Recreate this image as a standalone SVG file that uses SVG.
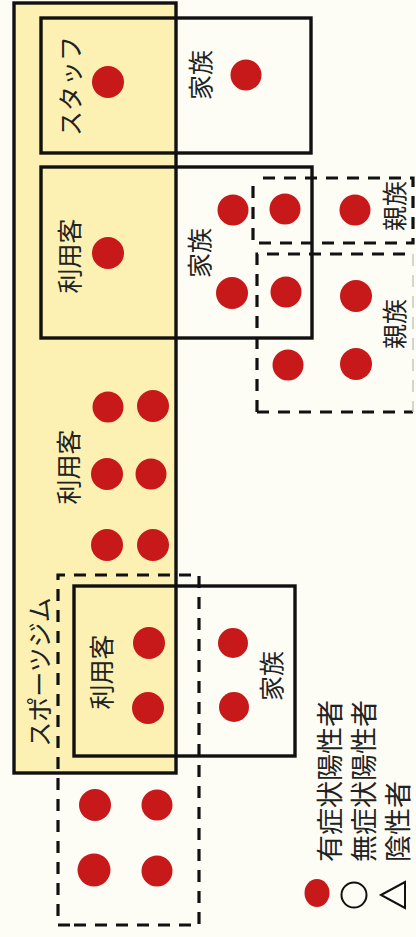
<svg xmlns="http://www.w3.org/2000/svg" width="416" height="937" viewBox="0 0 416 937">
<defs>
<style>
.solid{fill:none;stroke:#111;stroke-width:3.4}
.gymrect{fill:#fcf1b2;stroke:#111;stroke-width:3.4}
.dash{fill:none;stroke:#111;stroke-width:3.2;stroke-dasharray:12 9}
.faint{fill:none;stroke:#c8c8c0;stroke-width:1.5;stroke-dasharray:12 9}
.dot{fill:#c8191a}
.lbl{font-family:"Noto Sans CJK JP","Noto Sans",sans-serif;font-size:25px;fill:#222;text-anchor:middle;dominant-baseline:central}
.leg{font-family:"Noto Sans CJK JP","Noto Sans",sans-serif;font-size:27px;fill:#222;text-anchor:start;dominant-baseline:central}
</style>
</defs>
<rect width="416" height="937" fill="#fdfdf6"/>

<g id="gym">
<rect x="14" y="3" width="162" height="770" class="gymrect"/>
<text class="lbl" transform="translate(38,672) rotate(-90)">スポーツジム</text>
</g>

<g id="staff-box">
<rect x="41" y="18" width="270" height="135" class="solid"/>
</g>
<g id="staff">
<text class="lbl" transform="translate(69,86) rotate(-90)">スタッフ</text>
<circle class="dot" cx="108" cy="82" r="16"/>
</g>
<g id="staff-family">
<text class="lbl" transform="translate(199,75) rotate(-90)">家族</text>
<circle class="dot" cx="246" cy="75" r="15.5"/>
</g>

<g id="user1-box">
<rect x="41" y="167" width="271" height="171" class="solid"/>
</g>
<g id="user1">
<text class="lbl" transform="translate(68,256) rotate(-90)">利用客</text>
<circle class="dot" cx="108" cy="253" r="16"/>
</g>
<g id="user1-family">
<text class="lbl" transform="translate(198,253) rotate(-90)">家族</text>
<circle class="dot" cx="233" cy="210" r="15.5"/>
<circle class="dot" cx="232" cy="293" r="16"/>
</g>

<g id="relatives1">
<path class="dash" d="M263 178 H413 V243 H253 V178"/>
<text class="lbl" transform="translate(393,206) rotate(-90)">親族</text>
<circle class="dot" cx="285" cy="209" r="15.5"/>
<circle class="dot" cx="355" cy="210" r="15.5"/>
</g>

<g id="relatives2">
<path class="dash" d="M257 412 V254 H413"/>
<path class="dash" d="M257 412 H413"/>
<path class="faint" d="M413 254 V412"/>
<text class="lbl" transform="translate(393,324) rotate(-90)">親族</text>
<circle class="dot" cx="286" cy="292" r="15.5"/>
<circle class="dot" cx="356" cy="296" r="16"/>
<circle class="dot" cx="288" cy="365" r="15.5"/>
<circle class="dot" cx="356" cy="364" r="16"/>
</g>

<g id="users2">
<text class="lbl" transform="translate(67,467) rotate(-90)">利用客</text>
<circle class="dot" cx="108" cy="407" r="15.5"/>
<circle class="dot" cx="153" cy="406" r="16"/>
<circle class="dot" cx="107" cy="474" r="16"/>
<circle class="dot" cx="151" cy="474" r="15.5"/>
<circle class="dot" cx="107" cy="545" r="16"/>
<circle class="dot" cx="153" cy="545" r="16"/>
</g>

<g id="group3">
<path class="dash" d="M70 925 H58 V575 H199 V925 H70"/>
<circle class="dot" cx="95" cy="805" r="16"/>
<circle class="dot" cx="157" cy="805" r="15.5"/>
<circle class="dot" cx="94" cy="870" r="16.5"/>
<circle class="dot" cx="157" cy="871" r="15.5"/>
</g>

<g id="user3-box">
<rect x="74" y="586" width="221" height="170" class="solid"/>
</g>
<g id="user3">
<text class="lbl" transform="translate(100,672) rotate(-90)">利用客</text>
<circle class="dot" cx="149" cy="643" r="16"/>
<circle class="dot" cx="148" cy="708" r="16"/>
</g>
<g id="user3-family">
<text class="lbl" transform="translate(270,676) rotate(-90)">家族</text>
<circle class="dot" cx="233" cy="643" r="15"/>
<circle class="dot" cx="234" cy="707" r="15"/>
</g>

<g id="legend">
<ellipse class="dot" cx="317" cy="893" rx="12.5" ry="14"/>
<circle cx="354" cy="895" r="12.5" fill="none" stroke="#111" stroke-width="2"/>
<path d="M381 895 L405 882 L405 908 Z" fill="none" stroke="#111" stroke-width="2" stroke-linejoin="miter"/>
<text class="leg" transform="translate(328,862) rotate(-90)">有症状陽性者</text>
<text class="leg" transform="translate(362,862) rotate(-90)">無症状陽性者</text>
<text class="leg" transform="translate(396,862) rotate(-90)">陰性者</text>
</g>
</svg>
